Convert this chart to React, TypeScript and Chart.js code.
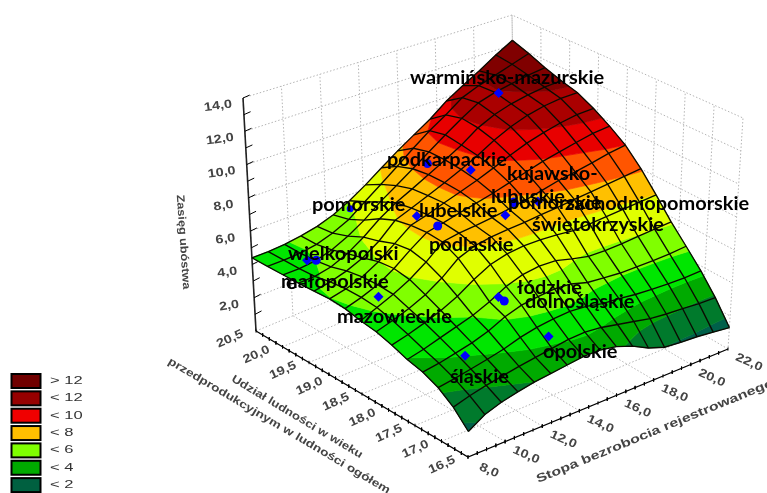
import React, { useEffect, useRef } from "react";
import { Chart, registerables } from "chart.js";

Chart.register(...registerables);

// ---- data ----
const unemploymentGrid = [8, 8.875, 9.75, 10.625, 11.5, 12.375, 13.25, 14.125, 15, 15.875, 16.75, 17.625, 18.5, 19.375, 20.25, 21.125, 22];
const ageShareGrid = [16.5, 16.786, 17.071, 17.357, 17.643, 17.929, 18.214, 18.5, 18.786, 19.071, 19.357, 19.643, 19.929, 20.214, 20.5];
const surfaceRows = [
  [1.4, 1.97, 2.29, 2.51, 2.69, 2.81, 2.93, 3.05, 3.05, 2.88, 2.53, 2.04, 1.7, 1.6, 1.54, 1.42, 1.3],
  [2.26, 2.53, 2.75, 2.92, 3.09, 3.24, 3.39, 3.54, 3.59, 3.49, 3.29, 3.09, 2.88, 2.77, 2.7, 2.62, 2.59],
  [2.86, 3.0, 3.18, 3.37, 3.59, 3.89, 4.1, 4.23, 4.3, 4.23, 4.02, 3.94, 3.81, 3.74, 3.69, 3.67, 3.7],
  [3.24, 3.38, 3.59, 3.81, 4.13, 4.59, 4.9, 5.03, 5.12, 5.05, 4.77, 4.67, 4.59, 4.58, 4.59, 4.62, 4.7],
  [3.46, 3.68, 3.97, 4.25, 4.55, 4.97, 5.5, 5.83, 5.98, 5.94, 5.68, 5.46, 5.44, 5.48, 5.55, 5.62, 5.7],
  [3.79, 4.03, 4.34, 4.69, 5.16, 5.78, 6.3, 6.57, 6.69, 6.69, 6.62, 6.52, 6.56, 6.63, 6.71, 6.79, 6.87],
  [4.06, 4.35, 4.68, 5.12, 5.73, 6.53, 6.92, 7.09, 7.19, 7.25, 7.36, 7.43, 7.56, 7.66, 7.78, 7.9, 8.01],
  [4.2, 4.61, 5.01, 5.51, 6.18, 7.01, 7.18, 7.27, 7.4, 7.56, 7.74, 7.98, 8.23, 8.41, 8.61, 8.84, 9.0],
  [4.41, 4.7, 5.08, 5.67, 6.41, 7.09, 7.31, 7.56, 7.79, 8.03, 8.32, 8.62, 8.92, 9.16, 9.39, 9.61, 9.71],
  [4.48, 4.7, 5.04, 5.58, 6.29, 7.03, 7.31, 7.66, 7.99, 8.34, 8.74, 9.17, 9.57, 9.88, 10.13, 10.3, 10.34],
  [4.44, 4.62, 4.9, 5.31, 5.95, 6.84, 7.22, 7.62, 8.05, 8.51, 9.02, 9.62, 10.11, 10.48, 10.72, 10.85, 10.86],
  [4.41, 4.44, 4.64, 5.06, 5.68, 6.43, 7.04, 7.53, 8.05, 8.6, 9.18, 9.9, 10.39, 10.72, 10.94, 11.08, 11.14],
  [4.4, 4.4, 4.5, 4.78, 5.24, 5.84, 6.59, 7.23, 7.91, 8.61, 9.32, 10.01, 10.64, 10.96, 11.17, 11.36, 11.49],
  [4.4, 4.4, 4.44, 4.6, 4.91, 5.37, 6.09, 6.8, 7.55, 8.33, 9.08, 9.73, 10.48, 10.9, 11.22, 11.58, 11.93],
  [4.4, 4.4, 4.46, 4.6, 4.8, 5.14, 5.63, 6.25, 6.95, 7.65, 8.3, 8.95, 9.75, 10.39, 11.0, 11.69, 12.3],
];

const pointU = [18.8, 15.2, 15.9, 16.7, 17.0, 15.7, 12.6, 12.95, 13.0, 9.5, 9.7, 9.65, 10.1, 12.9, 12.95, 13.8];
const pointV = [19.67, 19.73, 19.19, 18.69, 18.36, 18.5, 20.26, 19.16, 18.8, 20.0, 19.9, 18.74, 17.3, 17.66, 17.57, 17.04];
const pointZ = [11.6, 8.5, 8.75, 7.3, 7.8, 7.25, 5.85, 7.2, 7.2, 4.5, 4.6, 4.5, 3.4, 5, 4.9, 3.4];
const pointShape = ["rectRot", "circle", "rectRot", "circle", "rectRot", "rectRot", "circle", "rectRot", "circle", "rectRot", "circle", "rectRot", "rectRot", "rectRot", "circle", "rectRot"];
const pointSize = [5, 4.5, 5, 4.8, 5, 5, 3.5, 5, 4.5, 5, 4.5, 5, 5, 5, 4.5, 5];

const bandLevels = [1.7, 2.7, 3.5, 4.5, 5.6, 6.9, 7.9, 9, 10, 11];
const bandColors = ["#00604a", "#007a2c", "#00aa00", "#00e600", "#80ff00", "#e0ff00", "#ffc000", "#ff5500", "#e80000", "#aa0000", "#800000"];

const legendTexts = ["> 12", "< 12", "< 10", "< 8", "< 6", "< 4", "< 2"];
const legendColors = ["#700000", "#960000", "#f00000", "#ffbf00", "#7fff00", "#00aa00", "#006040"];

const zTicks = [2, 4, 6, 8, 10, 12, 14];
const uTicks = [8, 10, 12, 14, 16, 18, 20, 22];
const vTicks = [16.5, 17, 17.5, 18, 18.5, 19, 19.5, 20, 20.5];

const regionTexts: [string, number, number][] = [
  ["warmińsko-mazurskie", 410, 78],
  ["podkarpackie", 387, 160],
  ["kujawsko-", 507, 174],
  ["lubuskie", 491, 197],
  ["pomorskie", 508, 203],
  ["zachodniopomorskie", 565, 204],
  ["świętokrzyskie", 532, 225],
  ["pomorskie", 312, 205],
  ["lubelskie", 419, 211],
  ["podlaskie", 429, 245],
  ["wielkopolski", 288, 254],
  ["e", 286, 283],
  ["małopolskie", 281, 282],
  ["mazowieckie", 337, 317],
  ["łódzkie", 517, 288],
  ["dolnośląskie", 525, 302],
  ["opolskie", 543, 352],
  ["śląskie", 450, 377],
];

// ---- view: corners of the box on the floor and at z = 14 ----
const floorCorners = { f00: [468, 457], f10: [728, 349], f01: [256, 331], f11: [515, 224] };
const topCorners = { f00: [472, 202], f10: [743, 118], f01: [243, 98], f11: [512, 15] };
const U0 = 8, U1 = 22, V0 = 16.5, V1 = 20.5, Z1 = 14;

function bil(c: any, a: number, b: number, k: number) {
  return c.f00[k] * (1 - a) * (1 - b) + c.f10[k] * a * (1 - b) + c.f01[k] * (1 - a) * b + c.f11[k] * a * b;
}
function project(u: number, v: number, z: number) {
  const a = (u - U0) / (U1 - U0), b = (v - V0) / (V1 - V0), t = z / Z1;
  return {
    x: bil(floorCorners, a, b, 0) * (1 - t) + bil(topCorners, a, b, 0) * t,
    y: bil(floorCorners, a, b, 1) * (1 - t) + bil(topCorners, a, b, 1) * t,
  };
}

type V3 = [number, number, number];
function clipZ(poly: V3[], level: number, keepAbove: boolean): V3[] {
  const out: V3[] = [];
  const inside = (p: V3) => (keepAbove ? p[2] >= level : p[2] <= level);
  for (let i = 0; i < poly.length; i++) {
    const p = poly[i], q = poly[(i + 1) % poly.length];
    if (inside(p)) out.push(p);
    if (inside(p) !== inside(q)) {
      const t = (level - p[2]) / (q[2] - p[2]);
      out.push([p[0] + (q[0] - p[0]) * t, p[1] + (q[1] - p[1]) * t, level]);
    }
  }
  return out;
}

function lineSet(points: V3[], color: string, width: number, dash: number[] = []) {
  return {
    data: points.map((p) => project(p[0], p[1], p[2])),
    showLine: true, pointRadius: 0, borderColor: color, borderWidth: width, borderDash: dash,
    tension: 0, fill: false, spanGaps: false,
  };
}

function segmentsSet(segs: [V3, V3][], color: string, width: number) {
  const data: any[] = [];
  segs.forEach(([p, q]) => {
    data.push(project(p[0], p[1], p[2]), project(q[0], q[1], q[2]), { x: NaN, y: NaN });
  });
  return { data, showLine: true, pointRadius: 0, borderColor: color, borderWidth: width, tension: 0, fill: false, spanGaps: false };
}

function buildDatasets() {
  const back: any[] = [];
  const dot = [1.5, 2];
  const wall = "#b4b4b4";
  zTicks.forEach((z) => {
    back.push(lineSet([[U0, V1, z], [U1, V1, z], [U1, V0, z]], wall, 1, dot));
  });
  uTicks.forEach((u) => {
    back.push(lineSet([[u, V0, 0], [u, V1, 0], [u, V1, Z1]], wall, 1, dot));
  });
  vTicks.forEach((v) => {
    back.push(lineSet([[U0, v, 0], [U1, v, 0], [U1, v, Z1]], wall, 1, dot));
  });

  back.push(lineSet([[U0, V1, 0], [U0, V0, 0], [U1, V0, 0]], "#000", 1.2));
  back.push(lineSet([[U0, V1, 0], [U0, V1, Z1]], "#222", 1.6));
  const ticks: [V3, V3][] = [];
  for (let z = 1; z <= 14; z++) ticks.push([[U0, V1, z], [U0 + 0.35, V1, z + 0.05]]);
  for (let v = V0; v <= V1; v += 0.125) ticks.push([[U0, v, 0.1], [U0, v, -0.1]]);
  for (let u = U0; u <= U1; u += 0.5) ticks.push([[u, V0, 0.1], [u, V0, -0.1]]);
  back.push(segmentsSet(ticks, "#000", 1));

  const nU = unemploymentGrid.length, nV = ageShareGrid.length;
  for (let j = nV - 2; j >= 0; j--) {
    for (let i = nU - 2; i >= 0; i--) {
      const quad: V3[] = [
        [unemploymentGrid[i], ageShareGrid[j], surfaceRows[j][i]],
        [unemploymentGrid[i + 1], ageShareGrid[j], surfaceRows[j][i + 1]],
        [unemploymentGrid[i + 1], ageShareGrid[j + 1], surfaceRows[j + 1][i + 1]],
        [unemploymentGrid[i], ageShareGrid[j + 1], surfaceRows[j + 1][i]],
      ];
      bandColors.forEach((color, k) => {
        let poly = quad;
        if (k > 0) poly = clipZ(poly, bandLevels[k - 1], true);
        if (poly.length && k < bandLevels.length) poly = clipZ(poly, bandLevels[k], false);
        if (poly.length < 3) return;
        const pts = poly.map((p) => project(p[0], p[1], p[2]));
        pts.push(pts[0]);
        back.push({
          data: pts, showLine: true, pointRadius: 0, tension: 0,
          borderColor: color, borderWidth: 0.7, backgroundColor: color, fill: "shape",
        });
      });
    }
  }

  const mesh = "#0a0a00";
  for (let j = 0; j < nV; j++) {
    back.push(lineSet(unemploymentGrid.map((u, i) => [u, ageShareGrid[j], surfaceRows[j][i]] as V3), mesh, 1.35));
  }
  for (let i = 0; i < nU; i++) {
    back.push(lineSet(ageShareGrid.map((v, j) => [unemploymentGrid[i], v, surfaceRows[j][i]] as V3), mesh, 1.35));
  }

  back.push({
    data: pointU.map((u, i) => project(u, pointV[i], pointZ[i])),
    showLine: false,
    pointStyle: pointShape,
    pointRadius: pointSize,
    pointBackgroundColor: "#0000ff",
    pointBorderWidth: 0,
  });
  return back.reverse(); // Chart.js paints the last dataset first
}

function put(ctx: CanvasRenderingContext2D, text: string, x: number, y: number, deg: number, sx: number) {
  ctx.save();
  ctx.translate(x, y);
  ctx.rotate((deg * Math.PI) / 180);
  ctx.scale(sx, 1);
  ctx.fillText(text, 0, 0);
  ctx.restore();
}

const overlayPlugin = {
  id: "overlay",
  afterDraw(chart: any) {
    const ctx: CanvasRenderingContext2D = chart.ctx;
    const sx = (x: number) => chart.scales.x.getPixelForValue(x);
    const sy = (y: number) => chart.scales.y.getPixelForValue(y);
    ctx.save();
    ctx.textBaseline = "middle";

    ctx.filter = "blur(0.65px)";
    ctx.fillStyle = "#444";
    ctx.textAlign = "center";
    ctx.font = 'bold 12px "Liberation Sans"';
    zTicks.forEach((z) => {
      const p = project(U0, V1, z);
      put(ctx, z.toFixed(1).replace(".", ","), sx(p.x - 25), sy(p.y + 8), -8, 1.2);
    });
    uTicks.forEach((u) => {
      const p = project(u, V0, 0);
      put(ctx, u.toFixed(1).replace(".", ","), sx(p.x + 21), sy(p.y + 13.5), 24, 1.2);
    });
    vTicks.forEach((v) => {
      const p = project(U0, v, 0);
      put(ctx, v.toFixed(1).replace(".", ","), sx(p.x - 26), sy(p.y + 8), -24, 1.2);
    });
    ctx.font = 'bold 11px "Liberation Sans"';
    put(ctx, "Zasięg ubóstwa", sx(183), sy(242), 86, 1.15);
    put(ctx, "Udział ludności w wieku", sx(297), sy(417), 31, 1.2);
    put(ctx, "przedprodukcyjnym w ludności ogółem", sx(279), sy(426), 30.7, 1.24);
    ctx.textAlign = "left";
    ctx.font = 'bold 12px "Liberation Sans"';
    put(ctx, "Stopa bezrobocia rejestrowanego", sx(537), sy(480), -22.4, 1.33);

    ctx.filter = "blur(0.3px)";
    ctx.font = '11px "Liberation Sans"';
    legendTexts.forEach((t, i) => {
      const y = sy(381 + i * 17.35);
      ctx.fillStyle = "#000";
      ctx.fillRect(sx(10.5), y - 8, 31, 16);
      ctx.fillStyle = legendColors[i];
      ctx.fillRect(sx(12.5), y - 6, 27, 12);
      ctx.fillStyle = "#333";
      put(ctx, t, sx(50), y, 0, 1.5);
    });

    ctx.filter = "blur(0.25px)";
    ctx.fillStyle = "#000";
    ctx.font = "bold 19px Lato";
    regionTexts.forEach(([t, x, y]) => put(ctx, t, sx(x), sy(y), 0, 1.05));
    ctx.restore();
  },
};

export default function App() {
  const ref = useRef<HTMLCanvasElement>(null);
  useEffect(() => {
    const chart = new Chart(ref.current as HTMLCanvasElement, {
      type: "scatter",
      data: { datasets: buildDatasets() },
      options: {
        animation: false,
        responsive: false,
        events: [],
        layout: { padding: 0, autoPadding: false },
        scales: {
          x: { type: "linear", display: false, min: 0, max: 767 },
          y: { type: "linear", display: false, min: 0, max: 493, reverse: true },
        },
        plugins: { legend: { display: false }, tooltip: { enabled: false }, filler: { drawTime: "beforeDatasetDraw" } },
      },
      plugins: [overlayPlugin],
    } as any);
    return () => chart.destroy();
  }, []);
  return (
    <div style={{ position: "fixed", left: 0, top: 0, width: 767, height: 493, background: "#fff" }}>
      <canvas ref={ref} width={767} height={493} style={{ display: "block" }} />
    </div>
  );
}
